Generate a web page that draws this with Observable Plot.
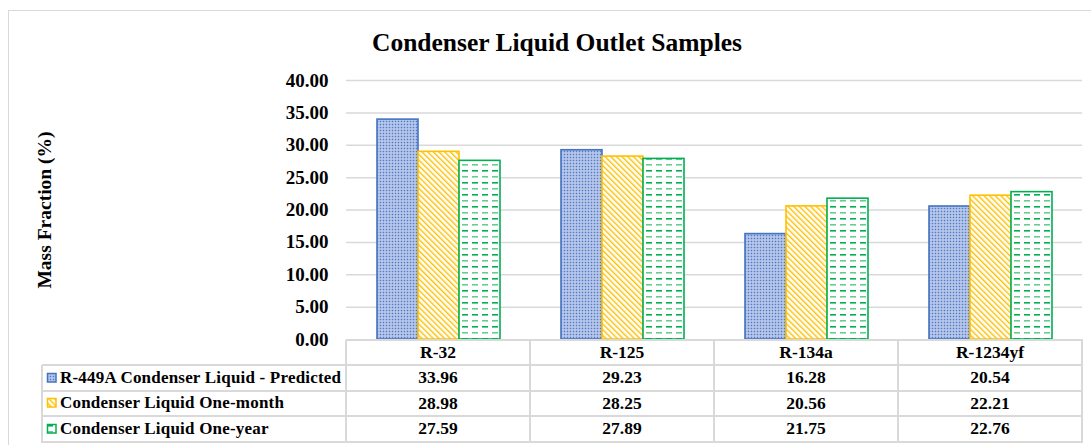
<!DOCTYPE html>
<html><head><meta charset="utf-8">
<script src="https://cdn.jsdelivr.net/npm/d3@7"></script>
<script src="https://cdn.jsdelivr.net/npm/@observablehq/plot@0.6"></script>
<style>
html,body{margin:0;padding:0;background:#fff;}
#wrap{position:relative;width:1091px;height:445px;overflow:hidden;font-family:'Liberation Serif';font-weight:bold;color:#000;}
.abs{position:absolute;font-family:'Liberation Serif';font-weight:bold;}
svg text{font-family:'Liberation Serif' !important;font-weight:bold;}
</style></head><body><div id="wrap"></div>
<script>
const title = "Condenser Liquid Outlet Samples";
const yTitle = "Mass Fraction (%)";
const categories = ["R-32", "R-125", "R-134a", "R-1234yf"];
const seriesNames = ["R-449A Condenser Liquid - Predicted", "Condenser Liquid One-month", "Condenser Liquid One-year"];
const predicted = [33.96, 29.23, 16.28, 20.54];
const oneMonth = [28.98, 28.25, 20.56, 22.21];
const oneYear = [27.59, 27.89, 21.75, 22.76];
const yTicks = [0, 5, 10, 15, 20, 25, 30, 35, 40];
const seriesColors = ["#4472C4", "#FFC000", "#00B050"];
const patternIds = ["pat-blue", "pat-orange", "pat-green"];
const FONT = "Liberation Serif";

const seriesValues = [predicted, oneMonth, oneYear];
const rows = seriesNames.flatMap((s, i) => categories.map((c, j) => ({series: s, category: c, value: seriesValues[i][j], si: i})));
const fmt = d3.format(".2f");

const plot = Plot.plot({
  width: 1091, height: 280, marginTop: 20, marginBottom: 1, marginLeft: 345, marginRight: 8,
  style: {fontFamily: FONT, fontSize: "19px", fontWeight: "bold", color: "#000", background: "transparent", overflow: "visible"},
  fx: {domain: categories, padding: 0, axis: null},
  x: {domain: seriesNames, paddingInner: 0, paddingOuter: 0.72, axis: null},
  y: {domain: [0, 40], ticks: yTicks, tickFormat: fmt, tickSize: 0, tickPadding: 18, label: null},
  marks: [
    Plot.ruleY(yTicks.filter(d => d > 0), {stroke: "#D9D9D9", strokeWidth: 1.5}),
    ...seriesNames.map((s, i) => Plot.barY(rows.filter(d => d.si === i), {
      fx: "category", x: "series", y: "value",
      fill: `url(#${patternIds[i]})`, stroke: seriesColors[i], strokeWidth: 1.6, inset: 0
    }))
  ]
});
plot.setAttribute("font-family", FONT);

// patterns
const svg = d3.select(plot);
const defs = svg.insert("defs", ":first-child");
const pb = defs.append("pattern").attr("id", "pat-blue").attr("patternUnits", "userSpaceOnUse").attr("width", 3).attr("height", 3);
pb.append("rect").attr("width", 3).attr("height", 3).attr("fill", "#BCCBEC");
pb.append("rect").attr("x", 0.75).attr("y", 0.75).attr("width", 1.5).attr("height", 1.5).attr("fill", "#5079C6");
const po = defs.append("pattern").attr("id", "pat-orange").attr("patternUnits", "userSpaceOnUse").attr("width", 4).attr("height", 4).attr("patternTransform", "rotate(-45)");
po.append("rect").attr("width", 4).attr("height", 4).attr("fill", "#ffffff");
po.append("rect").attr("x", 0).attr("y", 0).attr("width", 1.4).attr("height", 4).attr("fill", "#FFC000");
const pg = defs.append("pattern").attr("id", "pat-green").attr("patternUnits", "userSpaceOnUse").attr("width", 10).attr("height", 12);
pg.append("rect").attr("width", 10).attr("height", 12).attr("fill", "#ffffff");
pg.append("rect").attr("x", 1).attr("y", 2).attr("width", 6).attr("height", 1.6).attr("fill", "#00B050");
pg.append("rect").attr("x", 1).attr("y", 8).attr("width", 6).attr("height", 1.6).attr("fill", "#6BCB94");

const wrap = document.getElementById("wrap");
function add(tag, css, text) {
  const el = document.createElement(tag);
  el.className = "abs";
  el.style.fontFamily = FONT;
  el.style.fontWeight = "bold";
  Object.assign(el.style, css);
  if (text != null) el.textContent = text;
  wrap.appendChild(el);
  return el;
}

// outer border
add("div", {left: "8px", top: "10px", width: "1090px", height: "450px", border: "1.5px solid #D9D9D9", boxSizing: "border-box"});
// title
add("div", {left: "307px", width: "500px", top: "30px", textAlign: "center", fontSize: "25.5px", lineHeight: "25.5px", whiteSpace: "nowrap"}, title);
// plot
plot.style.position = "absolute";
plot.style.left = "0px";
plot.style.top = "60px";
wrap.appendChild(plot);
// y title
add("div", {left: "45px", top: "210px", transform: "translate(-50%,-50%) rotate(-90deg)", fontSize: "19.5px", lineHeight: "19.5px", whiteSpace: "nowrap"}, yTitle);

// data table
const fx = plot.scale("fx");
const bw = fx.bandwidth;
const colLeft = categories.map(c => fx.apply(c));
const tableRight = colLeft[colLeft.length - 1] + bw;
const headerTop = 340, headerH = 25, rowH = 25.5;
const rowTops = seriesNames.map((s, i) => headerTop + headerH + i * rowH);
const tableBottom = headerTop + headerH + seriesNames.length * rowH;
const legendLeft = 42;
const lineColor = "#D9D9D9";
function hline(y, x1, x2) { add("div", {left: x1 + "px", top: (y - 1) + "px", width: (x2 - x1 + 1) + "px", height: "2px", background: lineColor}); }
function vline(x, y1, y2) { add("div", {left: (x - 1) + "px", top: y1 + "px", width: "2px", height: (y2 - y1 + 1) + "px", background: lineColor}); }

hline(headerTop, colLeft[0], tableRight);
rowTops.forEach(y => hline(y, legendLeft, tableRight));
hline(tableBottom, legendLeft, tableRight);
vline(legendLeft, rowTops[0], tableBottom);
colLeft.forEach(x => vline(x, headerTop, tableBottom));
vline(tableRight, headerTop, tableBottom);

const cellCss = (left, top, w, h) => ({left: left + "px", top: top + "px", width: w + "px", height: h + "px", display: "flex", alignItems: "center", justifyContent: "center", fontSize: "17.5px", whiteSpace: "nowrap"});
categories.forEach((c, j) => add("div", cellCss(colLeft[j], headerTop, bw, headerH), c));
seriesNames.forEach((s, i) => {
  categories.forEach((c, j) => add("div", cellCss(colLeft[j], rowTops[i], bw, rowH), fmt(seriesValues[i][j])));
  const lab = add("div", {left: "46px", top: rowTops[i] + "px", height: rowH + "px", display: "flex", alignItems: "center", fontSize: "17px", whiteSpace: "nowrap", letterSpacing: "0.2px"});
  const key = document.createElementNS("http://www.w3.org/2000/svg", "svg");
  key.setAttribute("width", 12); key.setAttribute("height", 12);
  key.style.marginRight = "2px";
  const r = document.createElementNS("http://www.w3.org/2000/svg", "rect");
  r.setAttribute("x", 1.5); r.setAttribute("y", 1.5); r.setAttribute("width", 8.5); r.setAttribute("height", 8.5);
  r.setAttribute("fill", `url(#${patternIds[i]})`); r.setAttribute("stroke", seriesColors[i]); r.setAttribute("stroke-width", 1.5);
  key.appendChild(r);
  lab.appendChild(key);
  lab.appendChild(document.createTextNode(s));
});
</script></body></html>
